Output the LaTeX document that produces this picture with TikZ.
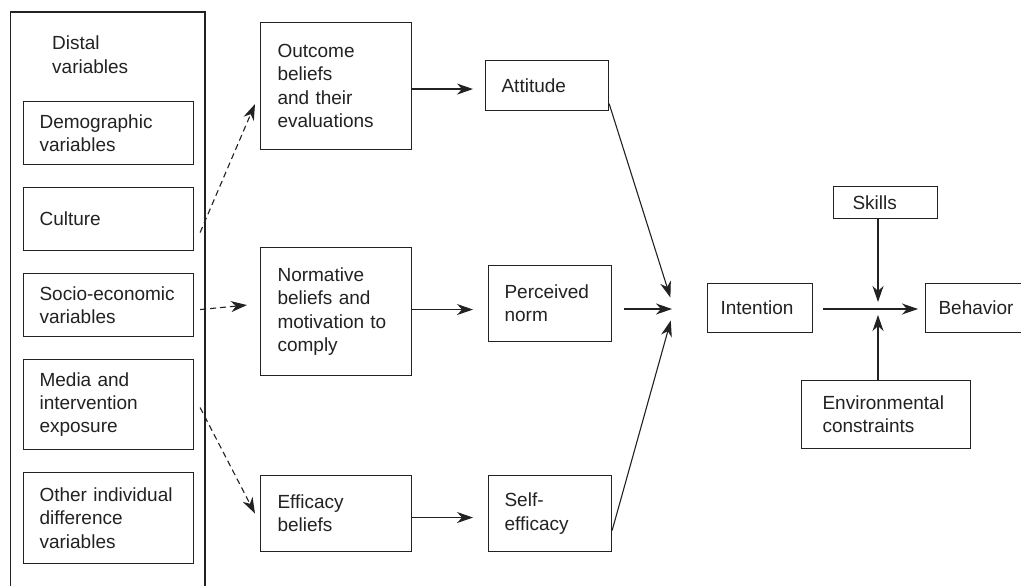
\documentclass[tikz,border=0pt]{standalone}
\usepackage{fontspec}
\setmainfont{Liberation Sans}
\usetikzlibrary{arrows.meta,calc}
\definecolor{ink}{HTML}{222222}
\begin{document}
\begin{tikzpicture}[x=1pt,y=-1pt,
  font=\fontsize{19}{23.3}\selectfont,
  box/.style={draw=ink, line width=1.1pt, text=ink, align=left, inner xsep=0pt, inner ysep=0pt, anchor=north west},
  arr/.style={draw=ink, line width=1.1pt, -{Stealth[length=16pt,width=11pt,inset=5pt]}},
  darr/.style={arr, dash pattern=on 6pt off 4pt}]
\clip (0,0) rectangle (1021,586);
\fill[white] (0,0) rectangle (1021,586);
% outer distal frame
\draw[draw=ink, line width=1.1pt] (10.5,600) -- (10.5,12) -- (205,12) -- (205,600);
\node[text=ink, align=left, inner sep=0pt, anchor=north west] (distal) at (52,36) {Distal\\variables};
% left column
\node[box, minimum width=170pt, minimum height=63pt, text width=138pt] (demo) at (23,101) {Demographic\\variables};
\node[box, minimum width=170pt, minimum height=63pt, text width=138pt] (culture) at (23,187) {Culture};
\node[box, minimum width=170pt, minimum height=63pt, text width=138pt] (socio) at (23,273) {Socio-economic\\variables};
\node[box, minimum width=170pt, minimum height=90pt, text width=138pt] (media) at (23,359) {Media and\\intervention\\exposure};
\node[box, minimum width=170pt, minimum height=91pt, text width=138pt] (other) at (23,472) {Other individual\\difference\\variables};
% beliefs column
\node[box, minimum width=151pt, minimum height=127pt, text width=117pt] (outcome) at (260,22) {Outcome\\beliefs\\and their\\evaluations};
\node[box, minimum width=151pt, minimum height=128pt, text width=117pt] (normative) at (260,247) {Normative\\beliefs and\\motivation to\\comply};
\node[box, minimum width=151pt, minimum height=76pt, text width=117pt] (effbel) at (260,475) {Efficacy\\beliefs};
% determinants column
\node[box, minimum width=123pt, minimum height=50pt, text width=91pt] (attitude) at (485,60) {Attitude};
\node[box, minimum width=123pt, minimum height=76pt, text width=91pt] (pnorm) at (488,265) {Perceived\\norm};
\node[box, minimum width=123pt, minimum height=76pt, text width=91pt] (selfeff) at (488,475) {Self-\\efficacy};
% right part
\node[box, minimum width=105pt, minimum height=49pt, text width=79pt] (intention) at (707,283) {Intention};
\node[box, minimum width=110pt, minimum height=49pt, text width=84pt] (behavior) at (925,283) {Behavior};
\node[box, minimum width=104pt, minimum height=32pt, text width=66pt] (skills) at (833,186) {Skills};
\node[box, minimum width=169pt, minimum height=68pt, text width=127pt] (env) at (801,380) {Environmental\\constraints};
\coordinate (conv) at (674,309);
\coordinate (mid) at (878,309);
% dashed arrows
\draw[darr] ([shift={(6pt,-13.5pt)}]culture.east) -- ([shift={(-5pt,-18pt)}]outcome.west);
\draw[darr] ([shift={(6pt,-4.5pt)}]socio.east) -- ([shift={(-13pt,0pt)}]socio.east -| normative.west);
\draw[darr] ([shift={(6pt,-3pt)}]media.east) -- ([xshift=-5pt]effbel.west);
% solid arrows
\draw[arr, shorten >=12pt] ([yshift=-3pt]outcome.east) -- ([yshift=-3pt]outcome.east -| attitude.west);
\draw[arr, shorten >=15pt] ([yshift=2pt]normative.east) -- ([yshift=2pt]normative.east -| pnorm.west);
\draw[arr, shorten >=15pt] ([yshift=-4pt]effbel.east) -- ([yshift=-4pt]effbel.east -| selfeff.west);
\draw[arr, shorten >=12pt] ([yshift=-18pt]attitude.east) -- (conv);
\draw[arr, shorten <=12pt, shorten >=2pt] (pnorm.east |- conv) -- (conv);
\draw[arr, shorten >=12pt] ([yshift=-17pt]selfeff.east) -- (conv);
\draw[arr, shorten <=10pt, shorten >=7pt] (intention.east |- mid) -- (behavior.west |- mid);
\draw[arr, shorten >=7pt] (skills.south -| mid) -- (mid);
\draw[arr, shorten >=6pt] (env.north -| mid) -- (mid);
\end{tikzpicture}
\end{document}
